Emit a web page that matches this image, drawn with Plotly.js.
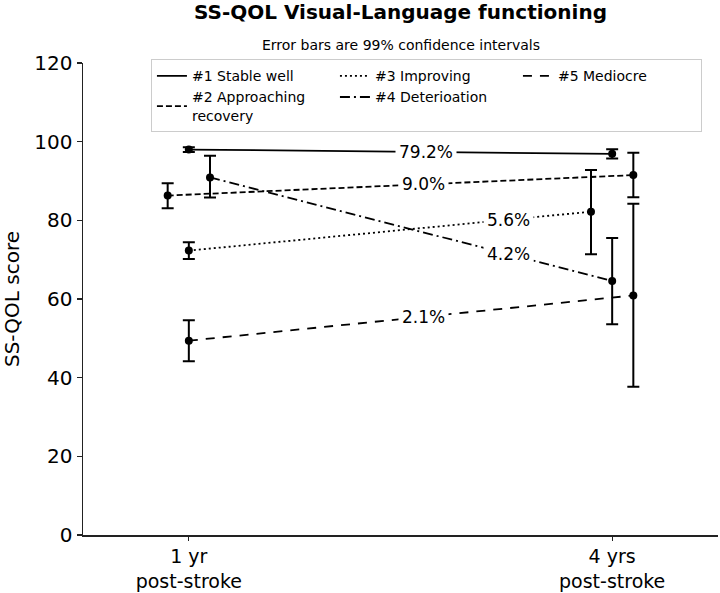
<!DOCTYPE html>
<html>
<head>
<meta charset="utf-8">
<script src="https://cdn.plot.ly/plotly-3.0.1.min.js"></script>
<style>html,body{margin:0;padding:0;background:#fff}#chart{width:720px;height:593px}</style>
</head>
<body>
<div id="chart"></div>
<script>
// ---- data ----
var timepoints = ["1 yr<br>post-stroke", "4 yrs<br>post-stroke"];
var seriesNames = ["#1 Stable well", "#2 Approaching<br>recovery", "#3 Improving", "#4 Deterioation", "#5 Mediocre"];
var shares = ["79.2%", "9.0%", "5.6%", "4.2%", "2.1%"];
var mean1 = [98.0, 96.9];
var lo1   = [97.4, 95.7];
var hi1   = [98.6, 98.1];
var mean2 = [86.3, 91.5];
var lo2   = [83.1, 85.9];
var hi2   = [89.4, 97.2];
var mean3 = [72.3, 82.2];
var lo3   = [70.2, 71.4];
var hi3   = [74.4, 92.8];
var mean4 = [90.9, 64.6];
var lo4   = [85.8, 53.6];
var hi4   = [96.4, 75.5];
var mean5 = [49.4, 60.9];
var lo5   = [44.2, 37.7];
var hi5   = [54.6, 84.2];

// ---- presentation ----
var means = [mean1, mean2, mean3, mean4, mean5];
var los = [lo1, lo2, lo3, lo4, lo5];
var his = [hi1, hi2, hi3, hi4, hi5];
var dodge = [[0, 0], [-0.05, 0.05], [0, -0.05], [0.05, 0], [0, 0.05]];
var dashes = ["solid", "6px,3px", "2px,3px", "10px,4px,2px,4px", "9px,8px"];
var ranks = [1, 4, 2, 5, 3];
var labelX = [0.56, 0.555, 0.755, 0.755, 0.555];
var font = "DejaVu Sans, Verdana, sans-serif";

var traces = [];
var annotations = [];
for (var s = 0; s < 5; s++) {
  var xs = [0 + dodge[s][0], 1 + dodge[s][1]];
  var m = means[s];
  traces.push({
    type: "scatter", mode: "lines+markers", showlegend: false,
    x: xs, y: m, name: seriesNames[s],
    line: {color: "#000", width: 1.8, dash: dashes[s]},
    marker: {color: "#000", size: 8},
    error_y: {type: "data", symmetric: false,
      array: [his[s][0] - m[0], his[s][1] - m[1]],
      arrayminus: [m[0] - los[s][0], m[1] - los[s][1]],
      color: "#000", thickness: 2, width: 6}
  });
  // legend entry (line only, as in the reference legend)
  traces.push({
    type: "scatter", mode: "lines", x: [null], y: [null],
    name: seriesNames[s], legendrank: ranks[s], showlegend: true,
    line: {color: "#000", width: 1.8, dash: dashes[s]}
  });
  var t = (labelX[s] - xs[0]) / (xs[1] - xs[0]);
  annotations.push({
    x: labelX[s], y: m[0] + t * (m[1] - m[0]), xref: "x", yref: "y",
    text: shares[s], showarrow: false, bgcolor: "#fff", borderpad: 3,
    font: {family: font, size: 17, color: "#000"}
  });
}
annotations.push({
  x: 0.5, y: 1.038, xref: "paper", yref: "paper", showarrow: false, yanchor: "middle",
  text: "Error bars are 99% confidence intervals",
  font: {family: font, size: 14, color: "#000"}
});

var layout = {
  width: 720, height: 593,
  margin: {l: 83, r: 2, t: 63, b: 58},
  paper_bgcolor: "#fff", plot_bgcolor: "#fff",
  font: {family: font, color: "#000"},
  title: {text: "<b>SS-QOL Visual-Language functioning</b>", x: 0.5, xref: "paper", y: 0.98, yanchor: "middle",
          font: {family: font, size: 20, color: "#000"}},
  showlegend: true,
  legend: {orientation: "h", x: 0.107, y: 1.008, xanchor: "left", yanchor: "top",
           bgcolor: "#fff", bordercolor: "#cccccc", borderwidth: 1,
           entrywidth: 138, entrywidthmode: "pixels", tracegroupgap: 0,
           font: {family: font, size: 14, color: "#000"}},
  xaxis: {range: [-0.25, 1.25], tickvals: [0, 1], ticktext: timepoints,
          showgrid: false, zeroline: false, showline: true, linecolor: "#222", linewidth: 1.5,
          ticks: "outside", ticklen: 4, tickcolor: "#222", tickwidth: 1.2,
          tickfont: {family: font, size: 19, color: "#000"}},
  yaxis: {range: [0, 120], tickvals: [0, 20, 40, 60, 80, 100, 120],
          showgrid: false, zeroline: false, showline: true, linecolor: "#222", linewidth: 1.5,
          ticks: "outside", ticklen: 5, tickcolor: "#222", tickwidth: 1.2,
          tickfont: {family: font, size: 20, color: "#000"},
          title: {text: "SS-QOL score", font: {family: font, size: 20, color: "#000"}, standoff: 10}},
  annotations: annotations
};
Plotly.newPlot("chart", traces, layout, {displayModeBar: false, staticPlot: true});
</script>
</body>
</html>
